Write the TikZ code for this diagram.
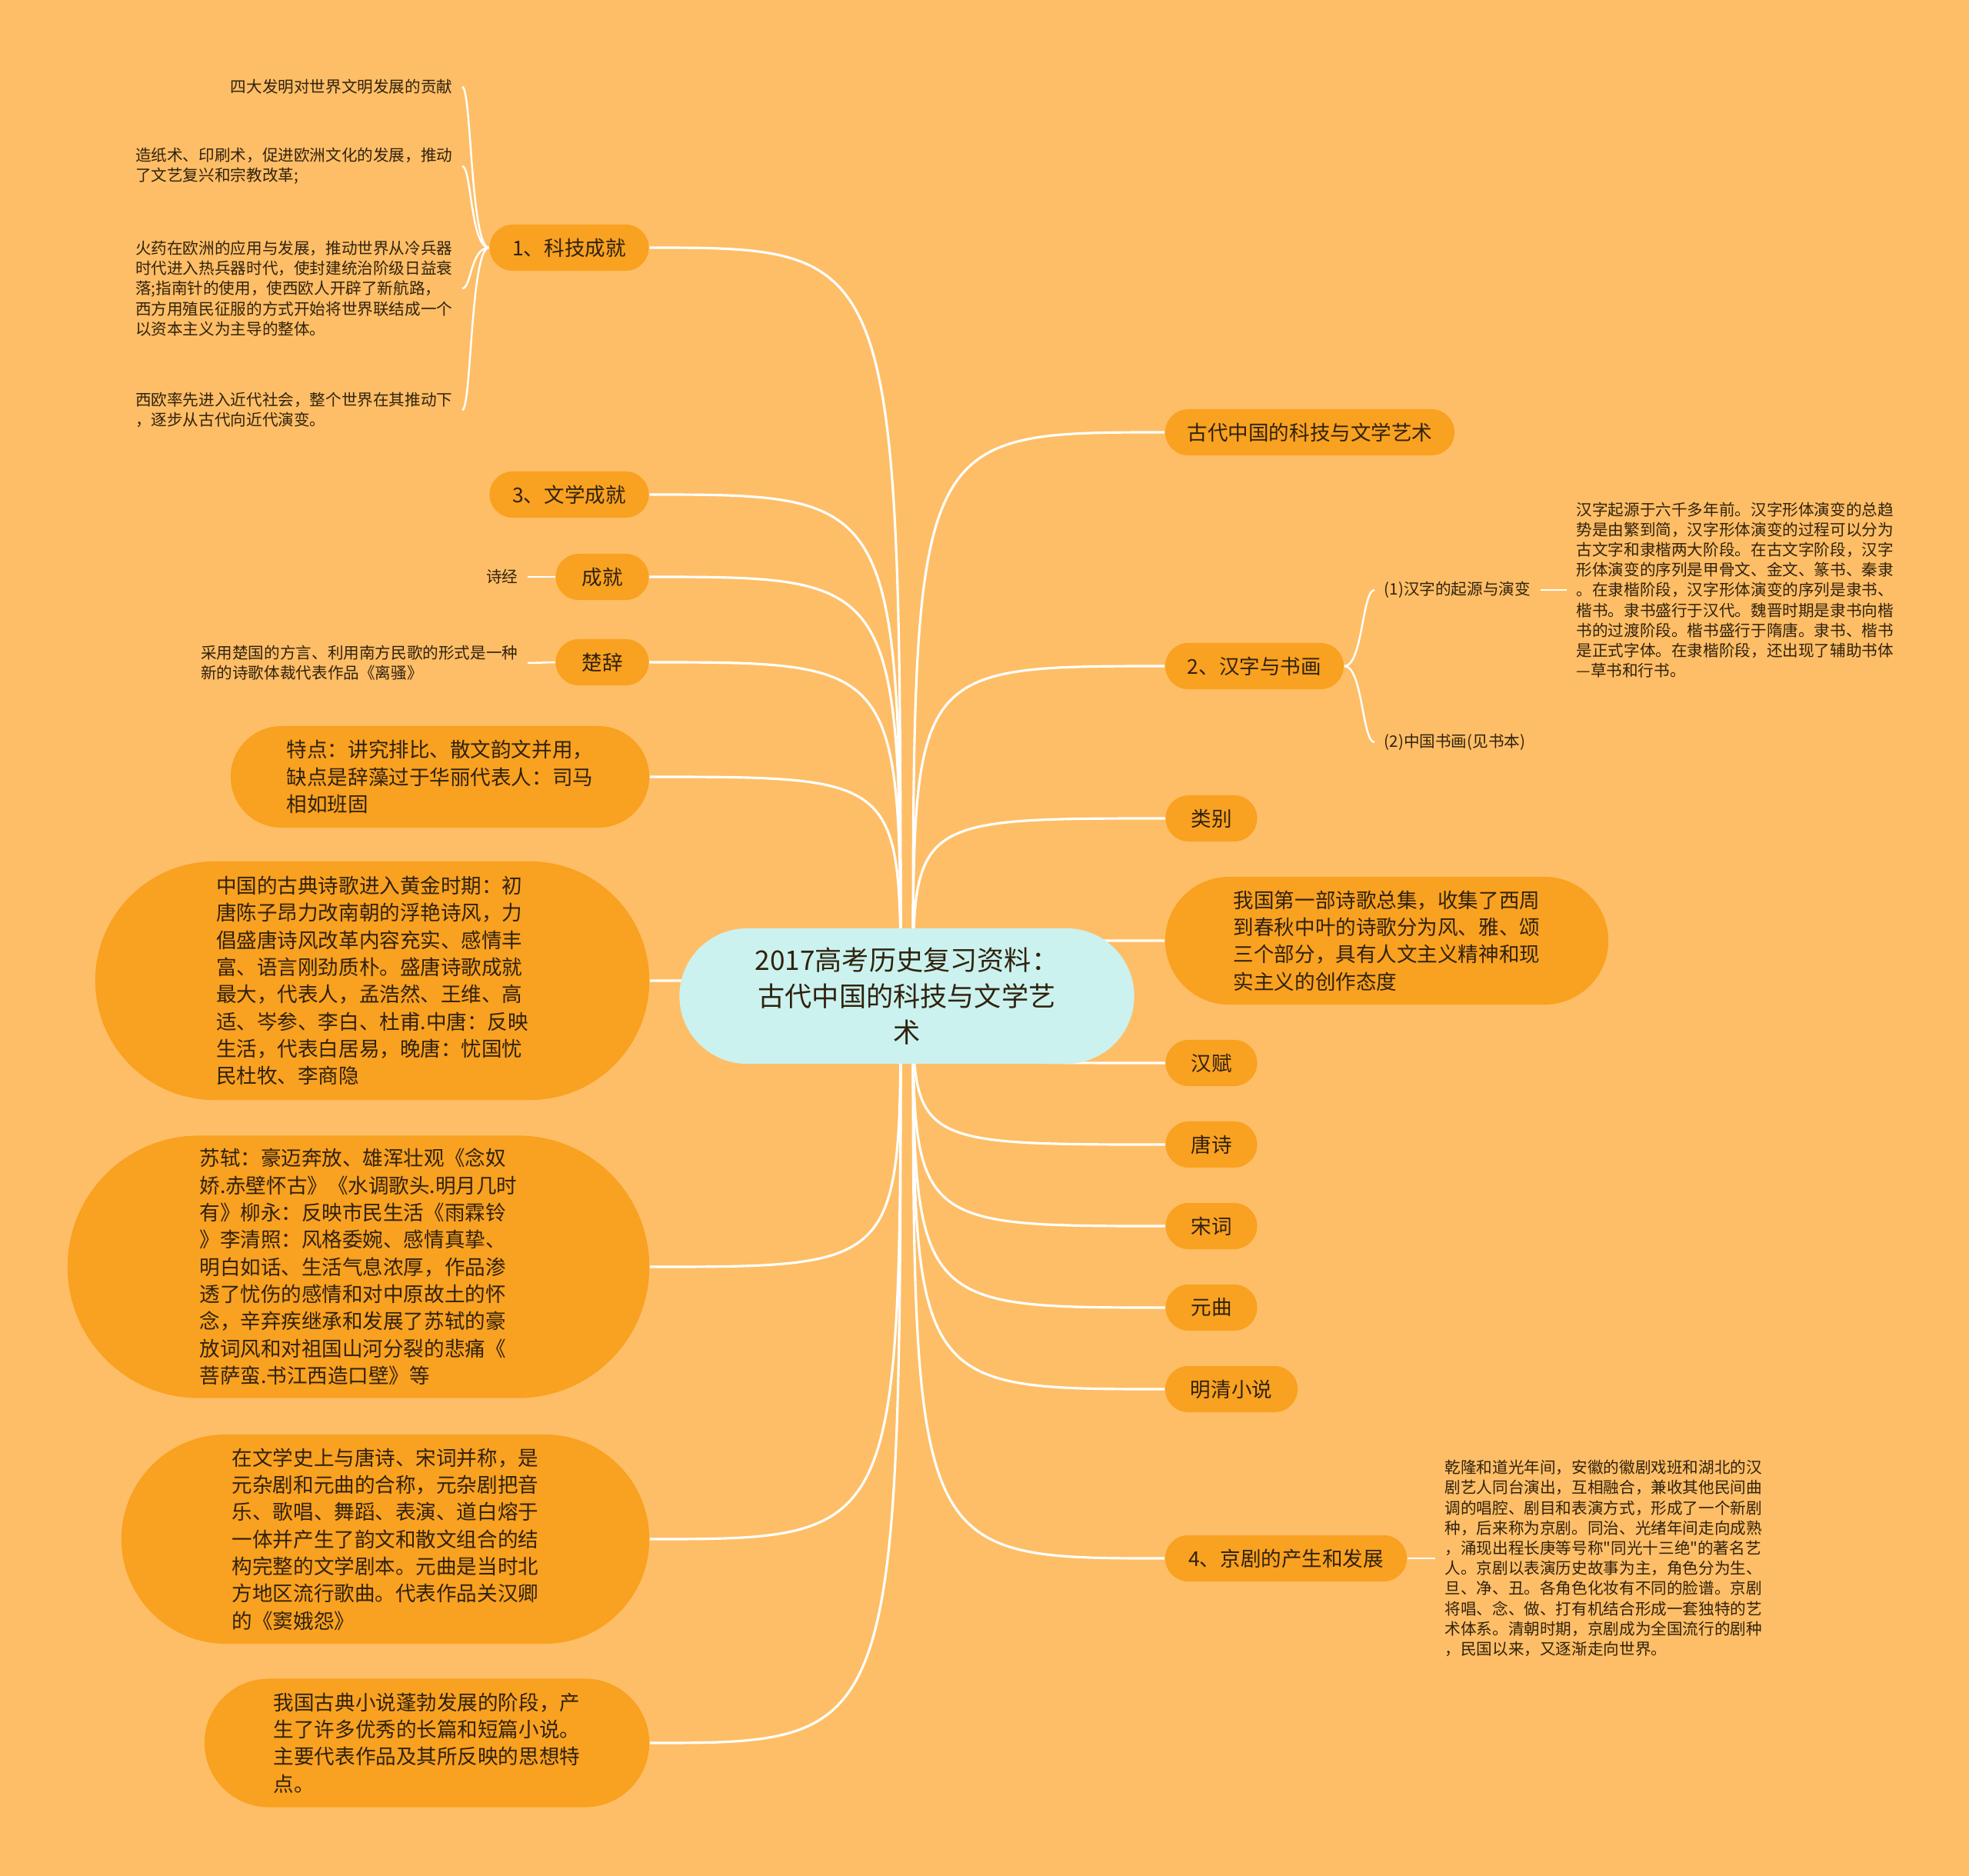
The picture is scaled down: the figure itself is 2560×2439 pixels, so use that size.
\documentclass[tikz,border=0pt]{standalone}
\usepackage{fontspec}
\setmainfont{Noto Sans CJK SC}[Ligatures=TeXOff]
\usepackage{tikz}
\usetikzlibrary{shapes.misc, calc}
\definecolor{bgorange}{RGB}{254,190,103}
\definecolor{topicorange}{RGB}{249,161,32}
\definecolor{rootcyan}{RGB}{203,242,238}
\definecolor{inktext}{RGB}{48,34,14}
\newcommand{\roottext}{\fontsize{10pt}{13.4pt}\selectfont}
\newcommand{\topictext}{\fontsize{7.55pt}{10.05pt}\selectfont}
\newcommand{\notetext}{\fontsize{5.86pt}{7.45pt}\selectfont}
\pgfdeclarelayer{backdrop}
\pgfdeclarelayer{links}
\pgfsetlayers{backdrop,links,main}

\begin{document}
\begin{tikzpicture}[x=0.01cm, y=-0.01cm,
  root/.style={rounded rectangle, fill=rootcyan, text=inktext, font=\roottext, align=center, inner sep=0pt},
  topic/.style={rounded rectangle, fill=topicorange, text=inktext, font=\topictext, align=left, inner sep=0pt, minimum height=0.6cm},
  note/.style={text=inktext, font=\notetext, align=left, inner sep=0.12cm},
  link/.style={draw=white, line width=0.9pt},
  sublink/.style={draw=white, line width=0.7pt}]
  % Fond
  \useasboundingbox (0,0) rectangle (2560,2439);
  \begin{pgfonlayer}{backdrop}
    \fill[bgorange] (0,0) rectangle (2560,2439);
  \end{pgfonlayer}
  % Centre
  \node[root, minimum width=5.91cm, minimum height=1.76cm] (ctr) at (1179,1295)
    {2017高考历史复习资料：\\古代中国的科技与文学艺\\术};
  \coordinate (cl) at ([xshift=-0.08cm]ctr.center);
  \coordinate (cr) at ([xshift=0.08cm]ctr.center);
  % Gauche
  \node[topic, minimum width=2.07cm] (kj) at (740,322) {1、科技成就};
  \node[topic, minimum width=2.07cm] (wx) at (740,643) {3、文学成就};
  \node[topic, minimum width=1.21cm] (cj) at (783,750) {成就};
  \node[topic, minimum width=1.21cm] (cc) at (783,861) {楚辞};
  \node[topic, minimum width=5.44cm, minimum height=1.32cm] (td) at (572,1010)
    {特点：讲究排比、散文韵文并用，\\缺点是辞藻过于华丽代表人：司马\\相如班固};
  \node[topic, minimum width=7.2cm, minimum height=3.1cm] (ts) at (484,1275)
    {中国的古典诗歌进入黄金时期：初\\唐陈子昂力改南朝的浮艳诗风，力\\倡盛唐诗风改革内容充实、感情丰\\富、语言刚劲质朴。盛唐诗歌成就\\最大，代表人，孟浩然、王维、高\\适、岑参、李白、杜甫.中唐：反映\\生活，代表白居易，晚唐：忧国忧\\民杜牧、李商隐};
  \node[topic, minimum width=7.56cm, minimum height=3.41cm] (sc) at (466,1647)
    {苏轼：豪迈奔放、雄浑壮观《念奴\\娇.赤壁怀古》《水调歌头.明月几时\\有》柳永：反映市民生活《雨霖铃\\》李清照：风格委婉、感情真挚、\\明白如话、生活气息浓厚，作品渗\\透了忧伤的感情和对中原故土的怀\\念，辛弃疾继承和发展了苏轼的豪\\放词风和对祖国山河分裂的悲痛《\\菩萨蛮.书江西造口壁》等};
  \node[topic, minimum width=6.86cm, minimum height=2.72cm] (yq) at (501,2001)
    {在文学史上与唐诗、宋词并称，是\\元杂剧和元曲的合称，元杂剧把音\\乐、歌唱、舞蹈、表演、道白熔于\\一体并产生了韵文和散文组合的结\\构完整的文学剧本。元曲是当时北\\方地区流行歌曲。代表作品关汉卿\\的《窦娥怨》};
  \node[topic, minimum width=5.78cm, minimum height=1.67cm] (xs) at (555,2266)
    {我国古典小说蓬勃发展的阶段，产\\生了许多优秀的长篇和短篇小说。\\主要代表作品及其所反映的思想特\\点。};
  % Droite
  \node[topic, minimum width=3.76cm] (gd) at (1703,562) {古代中国的科技与文学艺术};
  \node[topic, minimum width=2.32cm] (hz) at (1631,866) {2、汉字与书画};
  \node[topic, minimum width=1.19cm] (lb) at (1575,1064) {类别};
  \node[topic, minimum width=5.76cm, minimum height=1.66cm] (sj) at (1803,1223)
    {我国第一部诗歌总集，收集了西周\\到春秋中叶的诗歌分为风、雅、颂\\三个部分，具有人文主义精神和现\\实主义的创作态度};
  \node[topic, minimum width=1.19cm] (hf) at (1575,1382) {汉赋};
  \node[topic, minimum width=1.19cm] (tsh) at (1575,1488) {唐诗};
  \node[topic, minimum width=1.19cm] (sci) at (1575,1594) {宋词};
  \node[topic, minimum width=1.19cm] (yqu) at (1575,1700) {元曲};
  \node[topic, minimum width=1.72cm] (mq) at (1601,1806) {明清小说};
  \node[topic, minimum width=3.14cm] (jj) at (1672,2026) {4、京剧的产生和发展};
  % Notes
  \node[note, anchor=east] (k1) at (601,113) {四大发明对世界文明发展的贡献};
  \node[note, anchor=east] (k2) at (601,216)
    {造纸术、印刷术，促进欧洲文化的发展，推动\\了文艺复兴和宗教改革;};
  \node[note, anchor=east] (k3) at (601,375)
    {火药在欧洲的应用与发展，推动世界从冷兵器\\时代进入热兵器时代，使封建统治阶级日益衰\\落;指南针的使用，使西欧人开辟了新航路，\\西方用殖民征服的方式开始将世界联结成一个\\以资本主义为主导的整体。};
  \node[note, anchor=east] (k4) at (601,533)
    {西欧率先进入近代社会，整个世界在其推动下\\，逐步从古代向近代演变。};
  \node[note, anchor=east] (sjing) at (686,750) {诗经};
  \node[note, anchor=east] (ccnote) at (686,862)
    {采用楚国的方言、利用南方民歌的形式是一种\\新的诗歌体裁代表作品《离骚》};
  \node[note, anchor=west] (hz1) at (1787,767) {(1)汉字的起源与演变};
  \node[note, anchor=west] (hz2) at (1787,965) {(2)中国书画(见书本)};
  \node[note, anchor=west] (hz1note) at (2037,767)
    {汉字起源于六千多年前。汉字形体演变的总趋\\势是由繁到简，汉字形体演变的过程可以分为\\古文字和隶楷两大阶段。在古文字阶段，汉字\\形体演变的序列是甲骨文、金文、篆书、秦隶\\。在隶楷阶段，汉字形体演变的序列是隶书、\\楷书。隶书盛行于汉代。魏晋时期是隶书向楷\\书的过渡阶段。楷书盛行于隋唐。隶书、楷书\\是正式字体。在隶楷阶段，还出现了辅助书体\\—草书和行书。};
  \node[note, anchor=west] (jjnote) at (1866,2026)
    {乾隆和道光年间，安徽的徽剧戏班和湖北的汉\\剧艺人同台演出，互相融合，兼收其他民间曲\\调的唱腔、剧目和表演方式，形成了一个新剧\\种，后来称为京剧。同治、光绪年间走向成熟\\，涌现出程长庚等号称"同光十三绝"的著名艺\\人。京剧以表演历史故事为主，角色分为生、\\旦、净、丑。各角色化妆有不同的脸谱。京剧\\将唱、念、做、打有机结合形成一套独特的艺\\术体系。清朝时期，京剧成为全国流行的剧种\\，民国以来，又逐渐走向世界。};
  % Liens
  \begin{pgfonlayer}{links}
    \draw[link] (cl) .. controls (cl |- kj.east) .. (kj.east);
    \draw[link] (cl) .. controls (cl |- wx.east) .. (wx.east);
    \draw[link] (cl) .. controls (cl |- cj.east) .. (cj.east);
    \draw[link] (cl) .. controls (cl |- cc.east) .. (cc.east);
    \draw[link] (cl) .. controls (cl |- td.east) .. (td.east);
    \draw[link] (cl) .. controls (cl |- ts.east) .. (ts.east);
    \draw[link] (cl) .. controls (cl |- sc.east) .. (sc.east);
    \draw[link] (cl) .. controls (cl |- yq.east) .. (yq.east);
    \draw[link] (cl) .. controls (cl |- xs.east) .. (xs.east);
    \draw[link] (cr) .. controls (cr |- gd.west) .. (gd.west);
    \draw[link] (cr) .. controls (cr |- hz.west) .. (hz.west);
    \draw[link] (cr) .. controls (cr |- lb.west) .. (lb.west);
    \draw[link] (cr) .. controls (cr |- sj.west) .. (sj.west);
    \draw[link] (cr) .. controls (cr |- hf.west) .. (hf.west);
    \draw[link] (cr) .. controls (cr |- tsh.west) .. (tsh.west);
    \draw[link] (cr) .. controls (cr |- sci.west) .. (sci.west);
    \draw[link] (cr) .. controls (cr |- yqu.west) .. (yqu.west);
    \draw[link] (cr) .. controls (cr |- mq.west) .. (mq.west);
    \draw[link] (cr) .. controls (cr |- jj.west) .. (jj.west);
    % sous-branches
    \draw[sublink] (kj.west) .. controls +(-24,0) and +(12,0) .. (k1.east);
    \draw[sublink] (kj.west) .. controls +(-24,0) and +(12,0) .. (k2.east);
    \draw[sublink] (kj.west) .. controls +(-24,0) and +(12,0) .. (k3.east);
    \draw[sublink] (kj.west) .. controls +(-24,0) and +(12,0) .. (k4.east);
    \draw[sublink] (hz.east) .. controls +(24,0) and +(-16,0) .. (hz1.west);
    \draw[sublink] (hz.east) .. controls +(24,0) and +(-16,0) .. (hz2.west);
    \draw[sublink] (cj.west) -- (sjing.east);
    \draw[sublink] (cc.west) -- (ccnote.east);
    \draw[sublink] (hz1.east) -- (hz1note.west);
    \draw[sublink] (jj.east) -- (jjnote.west);
  \end{pgfonlayer}
\end{tikzpicture}
\end{document}
